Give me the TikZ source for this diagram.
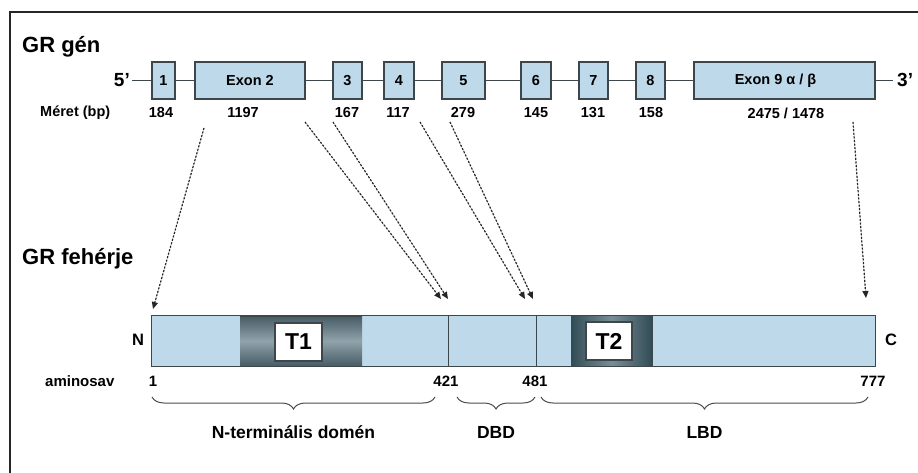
\documentclass[tikz,border=0pt]{standalone}
\usepackage{fontspec}
\setmainfont{Liberation Sans}
\usetikzlibrary{arrows.meta,decorations.pathreplacing}
\definecolor{lblue}{RGB}{190,218,234}
\definecolor{edgec}{RGB}{60,70,75}
\definecolor{tdark}{RGB}{70,92,102}
\definecolor{tlight}{RGB}{145,162,170}
\definecolor{udark}{RGB}{50,76,86}
\definecolor{ulight}{RGB}{120,142,150}
\newcommand{\myfs}[1]{\fontsize{#1}{#1}\selectfont}
\begin{document}
\begin{tikzpicture}[x=1pt,y=-1pt,
  genebox/.style={draw=edgec,fill=lblue,line width=1.1pt,inner sep=0pt,minimum height=37pt,font=\bfseries\myfs{14.5}},
  gline/.style={draw=edgec,line width=1.1pt},
  sizelbl/.style={font=\bfseries\myfs{14.5},inner sep=0pt},
  title/.style={font=\bfseries\myfs{22},inner sep=0pt,anchor=west},
  endlbl/.style={font=\bfseries\myfs{19},inner sep=0pt},
  aalbl/.style={font=\bfseries\myfs{15},inner sep=0pt},
  domlbl/.style={font=\bfseries\myfs{17.5},inner sep=0pt},
  tbox/.style={draw=edgec,fill=white,line width=1.1pt,inner sep=0pt,minimum height=38pt,font=\bfseries\myfs{23}},
  dotarrow/.style={-{Triangle[length=7pt,width=6pt]},line width=1.2pt,dash pattern=on 2pt off 1.6pt,draw=black!85,fill=black!85},
  bracestyle/.style={decorate,decoration={brace,mirror,amplitude=12pt,aspect=0.5},draw=black!70,line width=1pt}
]
\useasboundingbox (0,0) rectangle (918,473);
% frame
\draw[line width=2.2pt,draw=black!85] (10,473) -- (10,12) -- (918,12);

% titles
\node[title] (tgene) at (22,47) {GR gén};
\node[title] (tprot) at (22,259) {GR fehérje};

% gene
\node[endlbl,anchor=east] (five) at (130,80) {5’};
\node[endlbl,anchor=west] (three) at (897,80) {3’};
\coordinate (l5) at (132,80.5);
\coordinate (l3) at (893,80.5);
\node[genebox,minimum width=23pt] (e1) at (163.5,80.5) {1};
\node[genebox,minimum width=110pt] (e2) at (250,80.5) {Exon 2};
\node[genebox,minimum width=29pt] (e3) at (347.5,80.5) {3};
\node[genebox,minimum width=30pt] (e4) at (399,80.5) {4};
\node[genebox,minimum width=43pt] (e5) at (463.5,80.5) {5};
\node[genebox,minimum width=30pt] (e6) at (536,80.5) {6};
\node[genebox,minimum width=29pt] (e7) at (593.5,80.5) {7};
\node[genebox,minimum width=29pt] (e8) at (650.5,80.5) {8};
\node[genebox,minimum width=181pt] (e9) at (784.5,80.5) {\hspace*{-18pt}Exon 9 α / β};
\draw[gline] (l5) -- (e1) (e1) -- (e2) (e2) -- (e3) (e3) -- (e4) (e4) -- (e5)
  (e5) -- (e6) (e6) -- (e7) (e7) -- (e8) (e8) -- (e9) (e9) -- (l3);

% sizes
\node[sizelbl,anchor=west] (meret) at (40,113) {Méret (bp)};
\node[sizelbl] (s1) at (161,113) {184};
\node[sizelbl] (s2) at (243,113) {1197};
\node[sizelbl] (s3) at (347,113) {167};
\node[sizelbl] (s4) at (398,113) {117};
\node[sizelbl] (s5) at (463,113) {279};
\node[sizelbl] (s6) at (536,113) {145};
\node[sizelbl] (s7) at (593,113) {131};
\node[sizelbl] (s8) at (651,113) {158};
\node[sizelbl] (s9) at (786,113) {2475 / 1478};

% protein bar
\node[fill=lblue,inner sep=0pt,minimum width=723pt,minimum height=50pt] (prot) at (513.5,341) {};
\shade[top color=tdark,bottom color=tdark,middle color=tlight] (240,316) rectangle (362,366);
\shade[left color=udark,right color=udark,middle color=ulight] (571,316) rectangle (652,366);
\draw[draw=edgec,line width=1pt] (240,316) -- (362,316) (240,366) -- (362,366);
\draw[draw=edgec,line width=1pt] (571,316) -- (571,366) (652,316) -- (652,366);
\draw[draw=edgec,line width=1pt] (448,316) -- (448,366) (536,316) -- (536,366);
\draw[draw=edgec,line width=1.1pt] (prot.north west) rectangle (prot.south east);
\node[tbox,minimum width=47pt] (t1) at (298.5,342) {T1};
\node[tbox,minimum width=46pt] (t2) at (609,341) {T2};
\node[endlbl,font=\bfseries\myfs{16.5}] (nlbl) at (138,340) {N};
\node[endlbl,font=\bfseries\myfs{16.5}] (clbl) at (891,340) {C};

% amino acid numbers
\node[aalbl,anchor=west] (amino) at (45,381) {aminosav};
\node[aalbl] (n1) at (153,381) {1};
\node[aalbl] (n421) at (446,381) {421};
\node[aalbl] (n481) at (535,381) {481};
\node[aalbl] (n777) at (873,381) {777};

% braces
\coordinate (b1a) at (152,397); \coordinate (b1b) at (435,397);
\coordinate (b2a) at (457,397); \coordinate (b2b) at (535,397);
\coordinate (b3a) at (541,397); \coordinate (b3b) at (868,397);
\draw[bracestyle] (b1a) -- (b1b);
\draw[bracestyle] (b2a) -- (b2b);
\draw[bracestyle] (b3a) -- (b3b);
\node[domlbl] (dN) at (293.5,432) {N-terminális domén};
\node[domlbl] (dD) at (496,432) {DBD};
\node[domlbl] (dL) at (704.5,432) {LBD};

% arrows
\coordinate (a1s) at (204,128); \coordinate (a1e) at (153,309);
\coordinate (a2s) at (305,122); \coordinate (a2e) at (441,299);
\coordinate (a3s) at (333,122); \coordinate (a3e) at (448,299);
\coordinate (a4s) at (420,122); \coordinate (a4e) at (525,299);
\coordinate (a5s) at (450,122); \coordinate (a5e) at (533,299);
\coordinate (a6s) at (853,122); \coordinate (a6e) at (866,298);
\draw[dotarrow] (a1s) -- (a1e);
\draw[dotarrow] (a2s) -- (a2e);
\draw[dotarrow] (a3s) -- (a3e);
\draw[dotarrow] (a4s) -- (a4e);
\draw[dotarrow] (a5s) -- (a5e);
\draw[dotarrow] (a6s) -- (a6e);
\end{tikzpicture}
\end{document}
